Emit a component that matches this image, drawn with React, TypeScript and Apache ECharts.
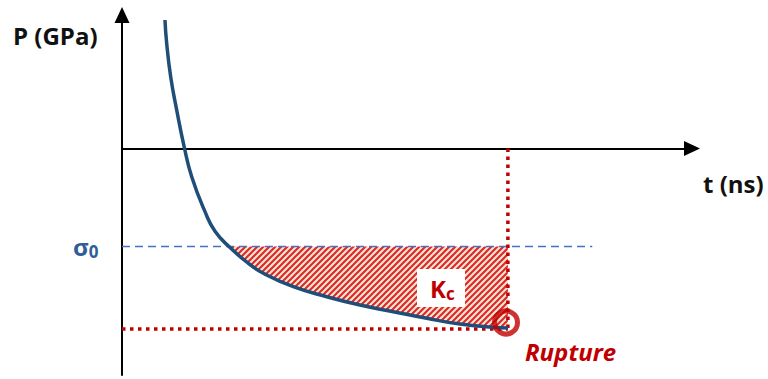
import React, { useEffect, useRef } from "react";
import * as echarts from "echarts";

// Curve P(t) (arbitrary units: t 0..10, P with sigma0 = -1)
const curveT = [0.754, 0.784, 0.854, 0.96, 1.093, 1.223, 1.456, 1.632, 1.895, 2.216, 2.479, 3.005, 3.591, 4.175, 4.76, 5.346, 5.93, 6.514, 6.772];
const curveP = [1.309, 1.071, 0.731, 0.391, 0.011, -0.289, -0.645, -0.845, -1.011, -1.171, -1.273, -1.41, -1.512, -1.597, -1.665, -1.732, -1.79, -1.824, -1.831];

const sigma0 = -1.0;
const sigmaLineEnd = 8.25;
const ruptureT = 6.77;
const ruptureP = -1.84;
const circleT = 6.737;
const circleP = -1.775;
const hatchStartIndex = 8;

const xRange = [0, 10];
const yRange = [-2.31, 1.36];

const labels = {
  yName: "P (GPa)",
  xName: "t (ns)",
  sigma: "σ",
  sigmaSub: "0",
  k: "K",
  kSub: "c",
  rupture: "Rupture",
};

function makeHatch(): HTMLCanvasElement {
  const s = 6;
  const c = document.createElement("canvas");
  c.width = s;
  c.height = s;
  const ctx = c.getContext("2d")!;
  ctx.fillStyle = "#fde2d0";
  ctx.fillRect(0, 0, s, s);
  ctx.strokeStyle = "#d92626";
  ctx.lineWidth = 2;
  ctx.beginPath();
  ctx.moveTo(0, s);
  ctx.lineTo(s, 0);
  ctx.moveTo(-s / 2, s / 2);
  ctx.lineTo(s / 2, -s / 2);
  ctx.moveTo(s / 2, s * 1.5);
  ctx.lineTo(s * 1.5, s / 2);
  ctx.stroke();
  return c;
}

export default function App() {
  const ref = useRef<HTMLDivElement>(null);

  useEffect(() => {
    if (!ref.current) return;
    const chart = echarts.init(ref.current, null, { renderer: "svg" });

    const curveData = curveT.map((t, i) => [t, curveP[i]]);
    const hatchT = curveT.slice(hatchStartIndex);
    const hatchP = curveP.slice(hatchStartIndex);

    const hatch = makeHatch();
    const font = "'Open Sans'";
    const family = "Open Sans";

    chart.setOption({
      animation: false,
      backgroundColor: "#ffffff",
      grid: { left: 122, right: 76, top: 15, bottom: 4, containLabel: false },
      xAxis: {
        type: "value",
        min: xRange[0],
        max: xRange[1],
        splitLine: { show: false },
        axisTick: { show: false },
        axisLabel: { show: false },
        axisLine: {
          show: true,
          onZero: true,
          symbol: ["none", "triangle"],
          symbolSize: [15, 16],
          lineStyle: { color: "#000", width: 2 },
        },
      },
      yAxis: {
        type: "value",
        min: yRange[0],
        max: yRange[1],
        splitLine: { show: false },
        axisTick: { show: false },
        axisLabel: { show: false },
        axisLine: {
          show: true,
          onZero: true,
          symbol: ["none", "triangle"],
          symbolSize: [15, 16],
          lineStyle: { color: "#000", width: 2 },
        },
      },
      series: [
        {
          type: "custom",
          name: "Kc",
          data: [[hatchT[0], sigma0]],
          silent: true,
          z: 1,
          renderItem: (_params: any, api: any) => {
            const pts = hatchT.map((t, i) => api.coord([t, hatchP[i]]));
            pts.push(api.coord([ruptureT, hatchP[hatchP.length - 1]]));
            pts.push(api.coord([ruptureT, sigma0]));
            pts.push(api.coord([hatchT[0], sigma0]));
            return {
              type: "polygon",
              shape: { points: pts },
              style: { fill: { image: hatch, repeat: "repeat", imageWidth: 6, imageHeight: 6 }, stroke: "none" },
            };
          },
        },
        {
          type: "line",
          name: "sigma0",
          data: [
            [xRange[0], sigma0],
            [sigmaLineEnd, sigma0],
          ],
          symbol: "none",
          lineStyle: { color: "#4472c4", width: 1.5, type: [8, 5] },
          z: 2,
        },
        {
          type: "line",
          name: "rupture-h",
          data: [
            [xRange[0], ruptureP],
            [ruptureT, ruptureP],
          ],
          symbol: "none",
          lineStyle: { color: "#c00000", width: 3.5, type: [3.5, 4.5] },
          z: 2,
        },
        {
          type: "line",
          name: "rupture-v",
          data: [
            [ruptureT, 0],
            [ruptureT, ruptureP],
          ],
          symbol: "none",
          lineStyle: { color: "#c00000", width: 3.5, type: [3.5, 4.5] },
          z: 2,
        },
        {
          type: "line",
          name: "P(t)",
          data: curveData,
          smooth: 0.5,
          symbol: "none",
          lineStyle: { color: "#1f4e79", width: 3.5 },
          z: 3,
        },
        {
          type: "scatter",
          name: "rupture",
          data: [[circleT, circleP]],
          symbol: "circle",
          symbolSize: 23,
          itemStyle: { color: "rgba(0,0,0,0)", borderColor: "#c00000", borderWidth: 5 },
          z: 4,
        },
      ],
      graphic: [
        {
          type: "text",
          x: 13,
          y: 35,
          style: { text: labels.yName, font: `bold 24px ${font}`, fill: "#111", textVerticalAlign: "middle", verticalAlign: "middle" },
        },
        {
          type: "text",
          x: 703,
          y: 183,
          style: { text: labels.xName, font: `bold 24px ${font}`, fill: "#111", textVerticalAlign: "middle", verticalAlign: "middle" },
        },
        {
          type: "text",
          x: 73,
          y: 246,
          style: {
            text: `{s|${labels.sigma}}{z|${labels.sigmaSub}}`,
            textVerticalAlign: "middle",
            verticalAlign: "middle",
            rich: {
              s: { fontFamily: family, fontWeight: "bold", fontSize: 24, lineHeight: 28, fill: "#2f5d98", color: "#2f5d98" },
              z: { fontFamily: family, fontWeight: "bold", fontSize: 17, lineHeight: 20, verticalAlign: "bottom", fill: "#2f5d98", color: "#2f5d98" },
            },
          },
        },
        {
          type: "rect",
          shape: { x: 417, y: 269, width: 48, height: 38 },
          style: { fill: "#ffffff" },
          z: 10,
        },
        {
          type: "text",
          x: 430,
          y: 288,
          z: 11,
          style: {
            text: `{k|${labels.k}}{c|${labels.kSub}}`,
            textVerticalAlign: "middle",
            verticalAlign: "middle",
            rich: {
              k: { fontFamily: family, fontWeight: "bold", fontSize: 24, lineHeight: 28, fill: "#c00000", color: "#c00000" },
              c: { fontFamily: family, fontWeight: "bold", fontSize: 17, lineHeight: 18, verticalAlign: "bottom", fill: "#c00000", color: "#c00000" },
            },
          },
        },
        {
          type: "text",
          x: 525,
          y: 351,
          style: { text: labels.rupture, font: `italic bold 24px ${font}`, fill: "#c00000", textVerticalAlign: "middle", verticalAlign: "middle" },
        },
      ],
    });

    return () => chart.dispose();
  }, []);

  return <div ref={ref} style={{ width: 768, height: 379, position: "absolute", left: 0, top: 0 }} />;
}
